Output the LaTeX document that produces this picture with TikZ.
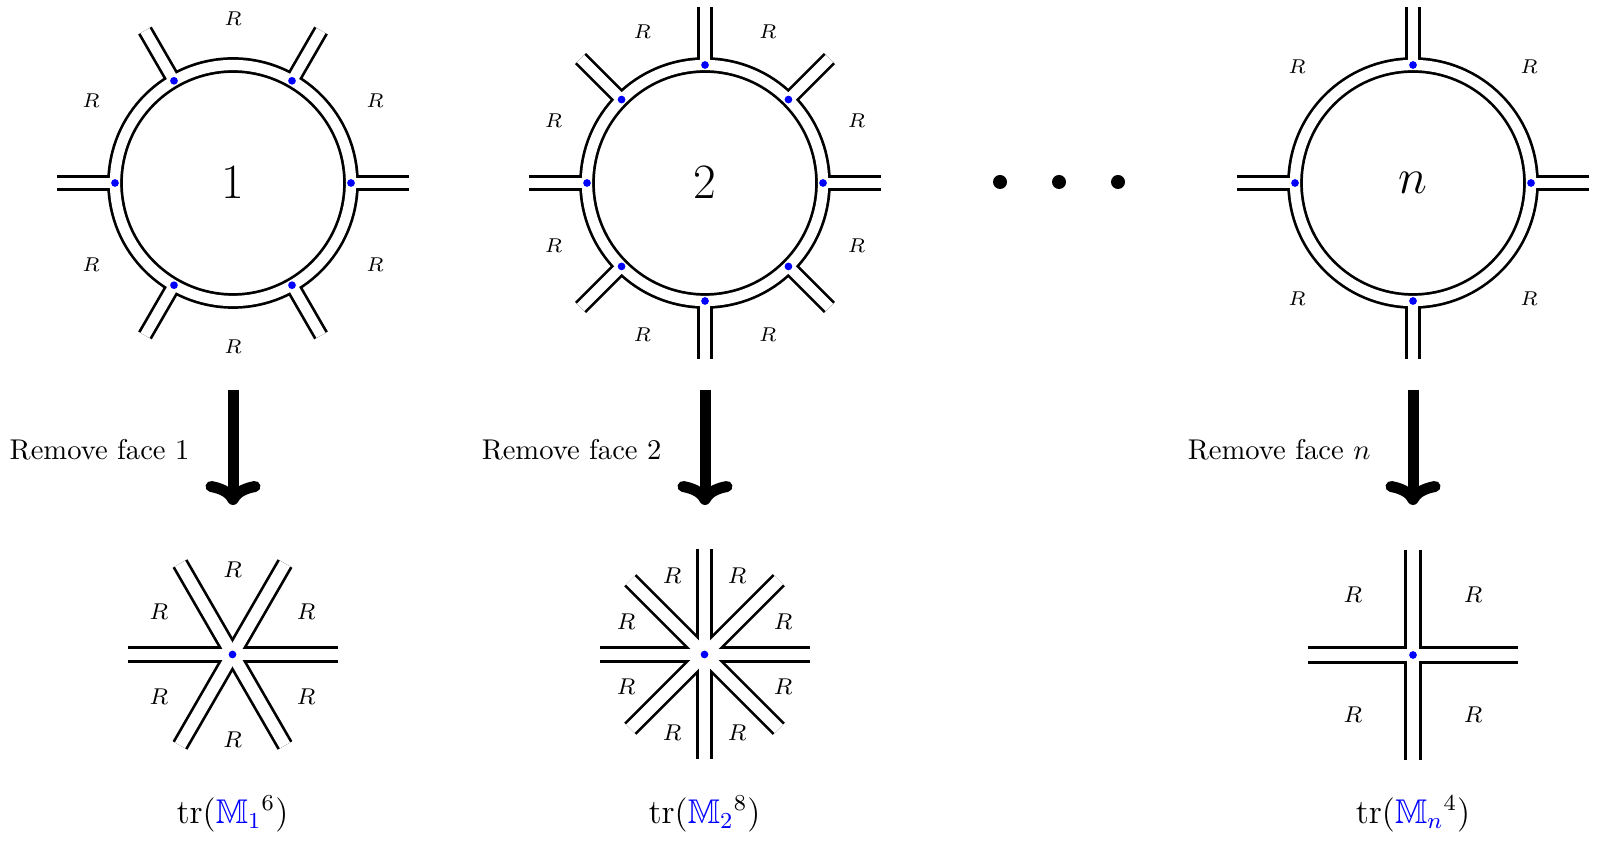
\documentclass[tikz,border=0pt]{standalone}
\usepackage{amssymb}
\usetikzlibrary{arrows.meta,calc}
\begin{document}
\begin{tikzpicture}[x=0.35pt,y=-0.35pt,
  ringblack/.style={line width=5.5pt, black},
  ringwhite/.style={line width=3.6pt, white},
  vblack/.style={line width=6pt, black},
  vwhite/.style={line width=4.1pt, white},
  bdot/.style={circle, fill=blue, draw=none, inner sep=0pt, outer sep=0pt, minimum size=2.7pt},
  edot/.style={circle, fill=black, draw=none, inner sep=0pt, outer sep=0pt, minimum size=4.9pt},
  lblS/.style={font=\scriptsize, inner sep=0pt},
  lblB/.style={font=\footnotesize, inner sep=0pt},
  facenum/.style={font=\LARGE, inner sep=0pt},
  removetxt/.style={anchor=base east, inner sep=0pt, font=\normalsize},
  trtxt/.style={anchor=base, inner sep=0pt, font=\large},
  bigarrow/.style={line width=3.85pt, -{Computer Modern Rightarrow[length=8.4pt,width=19.25pt]}},
]
\useasboundingbox (0,0) rectangle (1598,842);

% ---------- face centres ----------
\node[facenum] (r1) at (233,183) {$1$};
\node[facenum] (r2) at (705,183) {$2$};
\node[facenum] (rn) at (1413,183) {$n$};

% ---------- rings: black pass ----------
\foreach \c/\st in {r1/60, r2/45, rn/90}{
  \draw[ringblack] (\c.center) circle[radius=118];
  \foreach \a in {0,\st,...,359}
    \draw[ringblack] ($(\c.center)+(\a:118)$) -- ($(\c.center)+(\a:176)$);
}
% ---------- rings: white pass ----------
\foreach \c/\st in {r1/60, r2/45, rn/90}{
  \draw[ringwhite] (\c.center) circle[radius=118];
  \foreach \a in {0,\st,...,359}
    \draw[ringwhite] ($(\c.center)+(\a:118)$) -- ($(\c.center)+(\a:176)$);
}
% ---------- ring dots ----------
\foreach \c/\st in {r1/60, r2/45, rn/90}{
  \foreach \a in {0,\st,...,359}
    \node[bdot] at ($(\c.center)+(\a:118)$) {};
}
% ---------- ring labels ----------
\foreach \a in {30,90,...,330} \node[lblS] at ($(r1.center)+(\a:164)$) {$R$};
\foreach \a in {22.5,67.5,...,337.5} \node[lblS] at ($(r2.center)+(\a:164)$) {$R$};
\foreach \a in {45,135,...,315} \node[lblS] at ($(rn.center)+(\a:164)$) {$R$};

% ---------- ellipsis ----------
\node[edot] (d1) at (1000,182) {};
\node[edot] (d2) at (1059,182) {};
\node[edot] (d3) at (1118,182) {};

% ---------- vertices ----------
\coordinate (v1) at (232.5,654.5);
\coordinate (v2) at (704.5,654.5);
\coordinate (vn) at (1413,655);
\foreach \c/\st in {v1/60, v2/45, vn/90}{
  \foreach \a in {0,\st,...,359}
    \draw[vblack] (\c) -- ($(\c)+(\a:105)$);
}
\foreach \c/\st in {v1/60, v2/45, vn/90}{
  \foreach \a in {0,\st,...,359}
    \draw[vwhite] (\c) -- ($(\c)+(\a:105)$);
  \node[bdot] at (\c) {};
}
\foreach \a in {30,90,...,330} \node[lblB] at ($(v1)+(\a:85)$) {$R$};
\foreach \a in {22.5,67.5,...,337.5} \node[lblB] at ($(v2)+(\a:85)$) {$R$};
\foreach \a in {45,135,...,315} \node[lblB] at ($(vn)+(\a:85)$) {$R$};

% ---------- arrows ----------
\coordinate (a1s) at (233,390); \coordinate (a1e) at (233,505);
\coordinate (a2s) at (705,390); \coordinate (a2e) at (705,505);
\coordinate (ans) at (1413,390); \coordinate (ane) at (1413,505);
\draw[bigarrow] (a1s) -- (a1e);
\draw[bigarrow] (a2s) -- (a2e);
\draw[bigarrow] (ans) -- (ane);

\node[removetxt] (t1) at (190,460) {Remove face 1};
\node[removetxt] (t2) at (662,460) {Remove face 2};
\node[removetxt] (tn) at (1371,460) {Remove face $n$};

% ---------- traces ----------
\node[trtxt] (tr1) at (232.5,823) {$\mathrm{tr}(\textcolor{blue}{\mathbb{M}_1}^{6})$};
\node[trtxt] (tr2) at (704.5,823) {$\mathrm{tr}(\textcolor{blue}{\mathbb{M}_2}^{8})$};
\node[trtxt] (trn) at (1413,823) {$\mathrm{tr}(\textcolor{blue}{\mathbb{M}_n}^{4})$};
\end{tikzpicture}
\end{document}
